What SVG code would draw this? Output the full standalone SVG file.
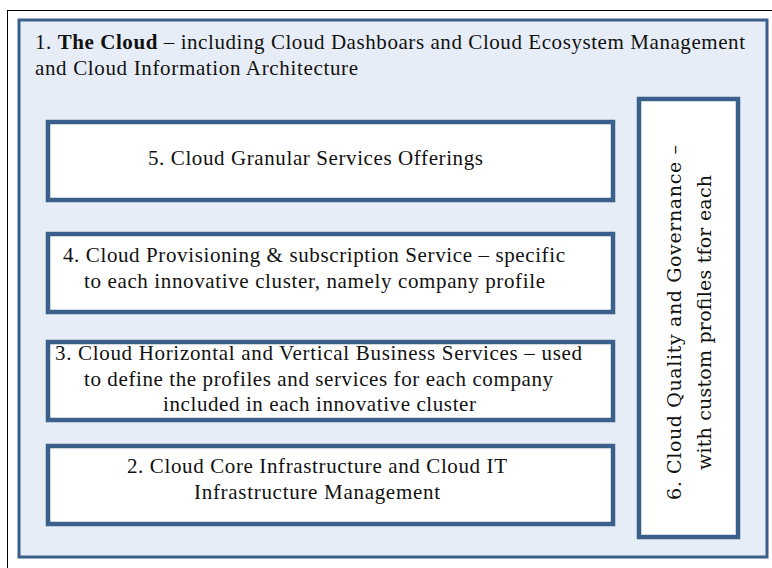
<svg xmlns="http://www.w3.org/2000/svg" width="772" height="568" viewBox="0 0 772 568">
<style>
.box{fill:#ffffff;stroke:#3a5f8b;stroke-width:4.5}
.t{font-family:"Liberation Serif","Times New Roman",serif;font-size:21px;fill:#111}
.v{font-family:"DejaVu Serif","Liberation Serif",serif;font-size:19px;fill:#111}
</style>
<rect width="772" height="568" fill="#ffffff"/>
<rect x="7.5" y="10.5" width="780" height="570" fill="none" stroke="#000" stroke-width="1"/>
<g id="cloud">
<rect x="19" y="20" width="748" height="537" fill="#e7edf6" stroke="#3a5f8b" stroke-width="3"/>
<text class="t" x="35" y="49" textLength="710"><tspan>1. </tspan><tspan font-weight="bold">The Cloud</tspan><tspan> – including Cloud Dashboars and Cloud Ecosystem Management</tspan></text>
<text class="t" x="35" y="75" textLength="323">and Cloud Information Architecture</text>
</g>
<g id="n5">
<rect class="box" x="48" y="122" width="565" height="78"/>
<text class="t" x="148" y="165" textLength="335">5. Cloud Granular Services Offerings</text>
</g>
<g id="n4">
<rect class="box" x="48" y="234" width="565" height="78"/>
<text class="t" x="63" y="262" textLength="502">4. Cloud Provisioning &amp; subscription Service – specific</text>
<text class="t" x="84" y="288" textLength="461">to each innovative cluster, namely company profile</text>
</g>
<g id="n3">
<rect class="box" x="48" y="342" width="565" height="78"/>
<text class="t" x="55" y="360" textLength="527">3. Cloud Horizontal and Vertical Business Services – used</text>
<text class="t" x="84" y="386" textLength="469">to define the profiles and services for each company</text>
<text class="t" x="163" y="411" textLength="313">included in each innovative cluster</text>
</g>
<g id="n2">
<rect class="box" x="48" y="446" width="565" height="78"/>
<text class="t" x="127" y="473" textLength="380">2. Cloud Core Infrastructure and Cloud IT</text>
<text class="t" x="194" y="499" textLength="246">Infrastructure Management</text>
</g>
<g id="n6">
<rect class="box" x="639" y="99" width="99" height="438"/>
<text class="v" transform="translate(681,500) rotate(-90)" textLength="355">6. Cloud Quality and Governance –</text>
<text class="v" transform="translate(711,470) rotate(-90)" textLength="295">with custom profiles tfor each</text>
</g>
<g id="connectors"></g>
</svg>
